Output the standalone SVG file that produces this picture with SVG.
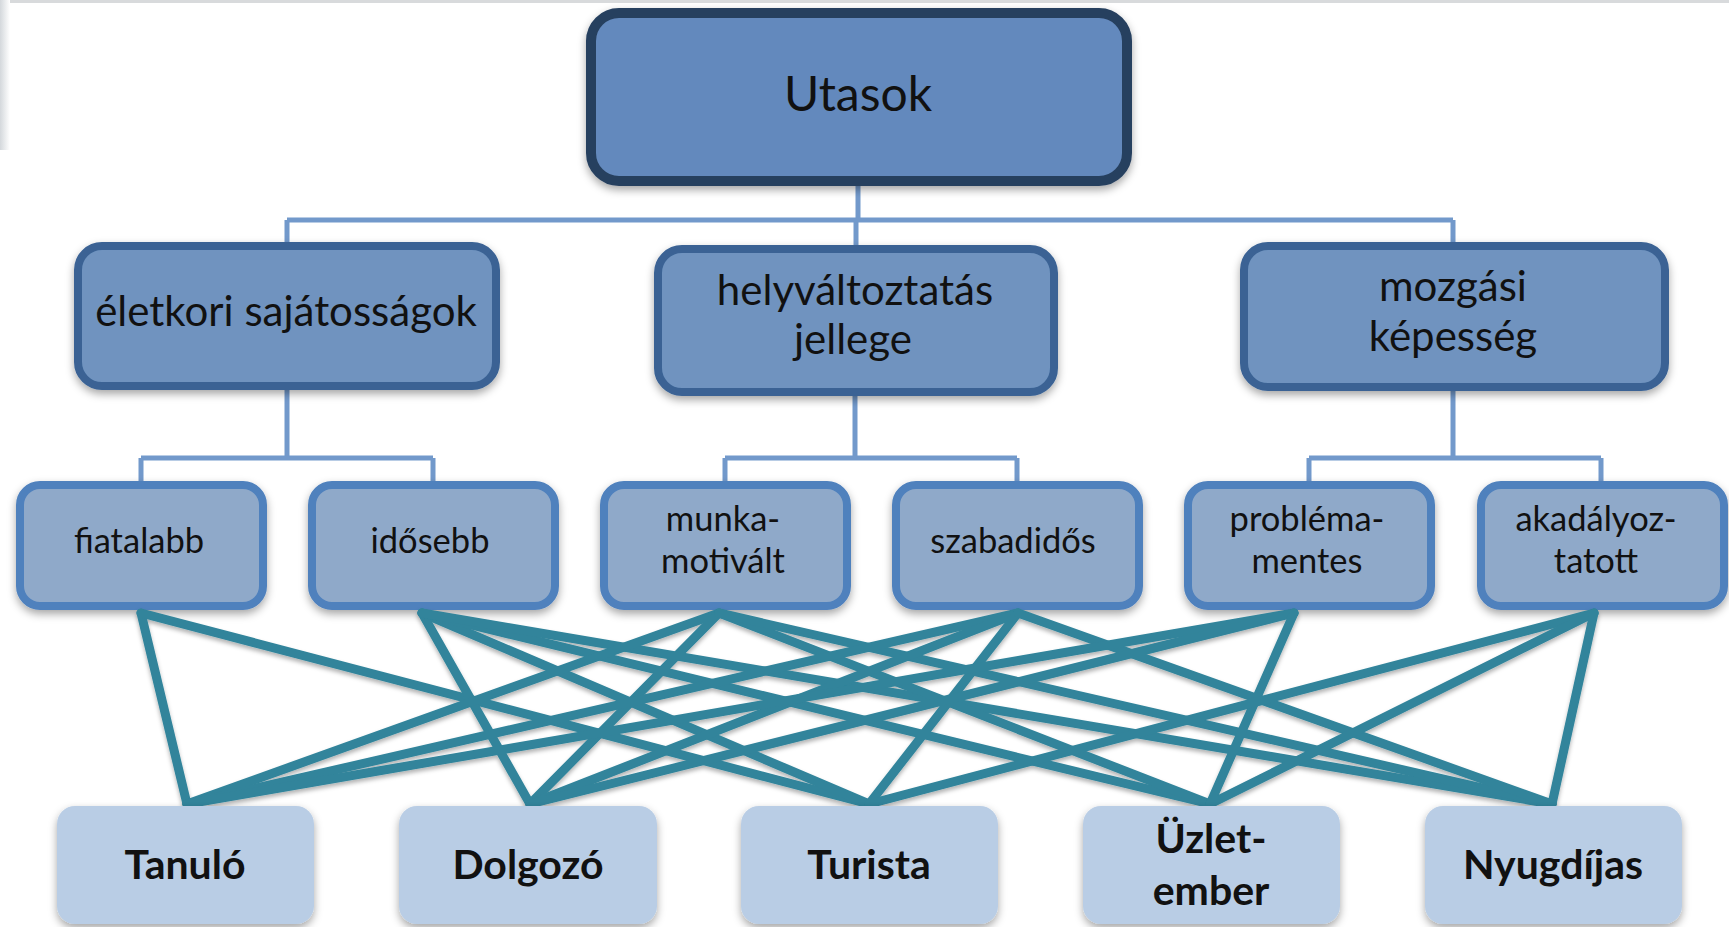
<svg xmlns="http://www.w3.org/2000/svg" width="1729" height="927" viewBox="0 0 1729 927">
<defs>
<filter id="sh" x="-10%" y="-10%" width="130%" height="140%">
<feDropShadow dx="0" dy="4" stdDeviation="4" flood-color="#000" flood-opacity="0.35"/>
</filter>
<filter id="lsh" x="-5%" y="-5%" width="110%" height="120%">
<feDropShadow dx="0" dy="3" stdDeviation="2" flood-color="#000" flood-opacity="0.3"/>
</filter>
<linearGradient id="lg" x1="0" y1="0" x2="1" y2="0">
<stop offset="0" stop-color="#d4d8dc"/>
<stop offset="1" stop-color="#ffffff"/>
</linearGradient>
</defs>
<style>
.t{font-family:Lato,"Open Sans","Liberation Sans",sans-serif;fill:#111;text-anchor:middle}
.root{fill:#6389bd;stroke:#27405f;stroke-width:10}
.l2{fill:#6f93bf;stroke:#3a6294;stroke-width:8}
.l3{fill:#8fa9c9;stroke:#4f81bd;stroke-width:8}
.l4{fill:#b9cde5}
.tree{stroke:#7299cb;stroke-width:5;fill:none}
.e{stroke:#31849b;stroke-width:9;stroke-linecap:round}
.f2{font-size:42px}
.f3{font-size:34.5px}
.f4{font-size:41px;font-weight:bold}
</style>
<rect width="1729" height="927" fill="#fff"/>
<rect x="0" y="0" width="1729" height="3" fill="#d8dadc"/>
<rect x="0" y="0" width="10" height="150" fill="url(#lg)"/>

<g id="tree-connectors" class="tree">
<path d="M858 185 V220 M287 220 H1453 M287 220 V243 M856 220 V246 M1453 220 V243"/>
<path d="M287 388 V458 M141 458 H433 M141 458 V482 M433 458 V482"/>
<path d="M855 394 V458 M725 458 H1017 M725 458 V482 M1017 458 V482"/>
<path d="M1453 389 V458 M1309 458 H1601 M1309 458 V482 M1601 458 V482"/>
</g>

<g id="n-utasok">
<rect class="root" x="591" y="13" width="536" height="168" rx="28" filter="url(#sh)"/>
<text class="t" x="858" y="111" font-size="48">Utasok</text>
</g>

<g id="n-eletkori">
<rect class="l2" x="78" y="246" width="418" height="140" rx="24" filter="url(#sh)"/>
<text class="t f2" x="286" y="326">életkori sajátosságok</text>
</g>
<g id="n-helyvaltoztatas">
<rect class="l2" x="658" y="249" width="396" height="143" rx="24" filter="url(#sh)"/>
<text class="t f2" x="855" y="305">helyváltoztatás</text>
<text class="t f2" x="853" y="354">jellege</text>
</g>
<g id="n-mozgasi">
<rect class="l2" x="1244" y="246" width="421" height="141" rx="24" filter="url(#sh)"/>
<text class="t f2" x="1453" y="301">mozgási</text>
<text class="t f2" x="1453" y="351">képesség</text>
</g>

<g id="n-fiatalabb">
<rect class="l3" x="20" y="485" width="243" height="121" rx="20" filter="url(#sh)"/>
<text class="t f3" x="139" y="553">fiatalabb</text>
</g>
<g id="n-idosebb">
<rect class="l3" x="312" y="485" width="243" height="121" rx="20" filter="url(#sh)"/>
<text class="t f3" x="430" y="553">idősebb</text>
</g>
<g id="n-munka">
<rect class="l3" x="604" y="485" width="243" height="121" rx="20" filter="url(#sh)"/>
<text class="t f3" x="723" y="531">munka-</text>
<text class="t f3" x="723" y="573">motivált</text>
</g>
<g id="n-szabadidos">
<rect class="l3" x="896" y="485" width="243" height="121" rx="20" filter="url(#sh)"/>
<text class="t f3" x="1013" y="553">szabadidős</text>
</g>
<g id="n-problema">
<rect class="l3" x="1188" y="485" width="243" height="121" rx="20" filter="url(#sh)"/>
<text class="t f3" x="1307" y="531">probléma-</text>
<text class="t f3" x="1307" y="573">mentes</text>
</g>
<g id="n-akadalyozott">
<rect class="l3" x="1481" y="485" width="243" height="121" rx="20" filter="url(#sh)"/>
<text class="t f3" x="1596" y="531">akadályoz-</text>
<text class="t f3" x="1596" y="573">tatott</text>
</g>

<g id="edges" class="e" filter="url(#lsh)">
<line x1="141" y1="613" x2="187" y2="804"/>
<line x1="141" y1="613" x2="869" y2="804"/>
<line x1="422" y1="613" x2="530" y2="804"/>
<line x1="422" y1="613" x2="869" y2="804"/>
<line x1="422" y1="613" x2="1210" y2="804"/>
<line x1="422" y1="613" x2="1552" y2="804"/>
<line x1="719" y1="613" x2="187" y2="804"/>
<line x1="719" y1="613" x2="530" y2="804"/>
<line x1="719" y1="613" x2="1210" y2="804"/>
<line x1="719" y1="613" x2="1552" y2="804"/>
<line x1="1018" y1="613" x2="187" y2="804"/>
<line x1="1018" y1="613" x2="530" y2="804"/>
<line x1="1018" y1="613" x2="869" y2="804"/>
<line x1="1018" y1="613" x2="1552" y2="804"/>
<line x1="1294" y1="613" x2="187" y2="804"/>
<line x1="1294" y1="613" x2="530" y2="804"/>
<line x1="1294" y1="613" x2="1210" y2="804"/>
<line x1="1594" y1="613" x2="869" y2="804"/>
<line x1="1594" y1="613" x2="1210" y2="804"/>
<line x1="1594" y1="613" x2="1552" y2="804"/>
</g>

<g id="n-tanulo">
<rect class="l4" x="57" y="806" width="257" height="118" rx="18" filter="url(#sh)"/>
<text class="t f4" x="185" y="879">Tanuló</text>
</g>
<g id="n-dolgozo">
<rect class="l4" x="399" y="806" width="258" height="118" rx="18" filter="url(#sh)"/>
<text class="t f4" x="528" y="879">Dolgozó</text>
</g>
<g id="n-turista">
<rect class="l4" x="741" y="806" width="257" height="118" rx="18" filter="url(#sh)"/>
<text class="t f4" x="869" y="879">Turista</text>
</g>
<g id="n-uzletember">
<rect class="l4" x="1083" y="806" width="257" height="118" rx="18" filter="url(#sh)"/>
<text class="t f4" x="1211" y="853">Üzlet-</text>
<text class="t f4" x="1211" y="905">ember</text>
</g>
<g id="n-nyugdijas">
<rect class="l4" x="1425" y="806" width="257" height="118" rx="18" filter="url(#sh)"/>
<text class="t f4" x="1553" y="879">Nyugdíjas</text>
</g>
</svg>
